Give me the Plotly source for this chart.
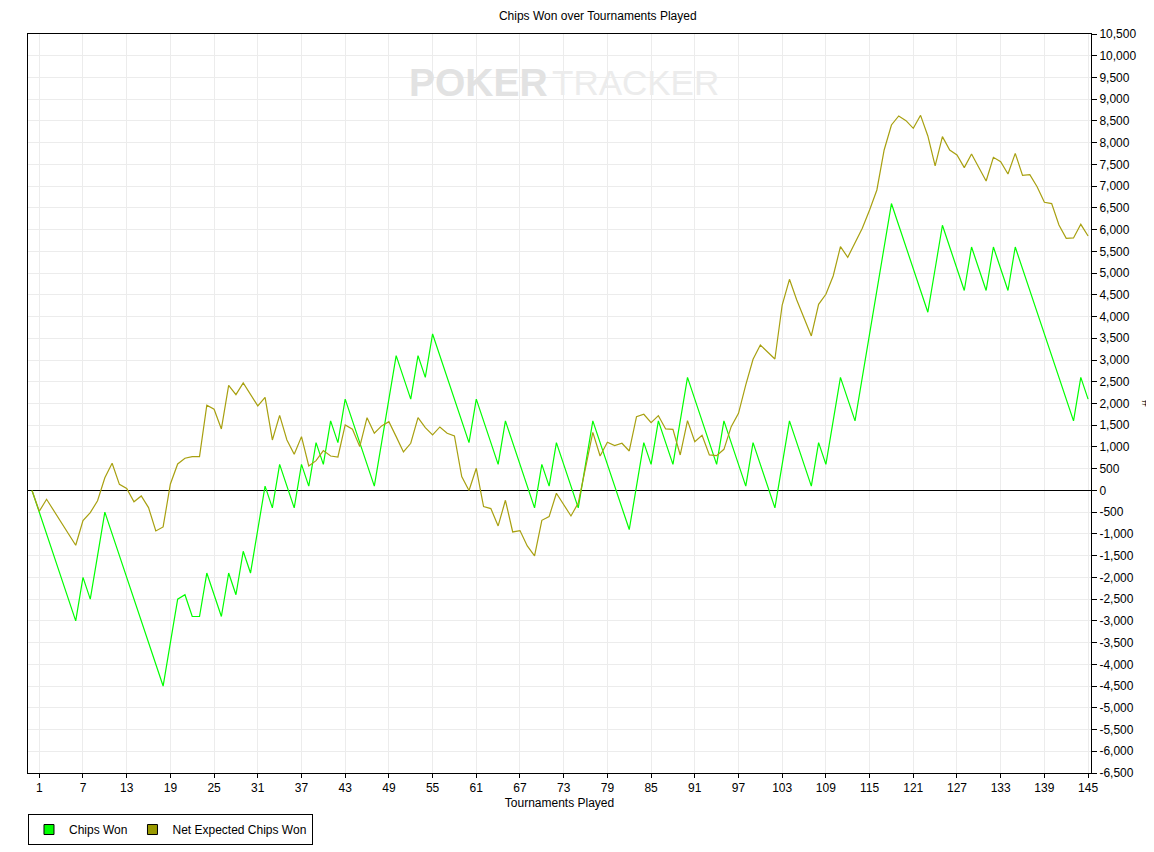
import plotly.graph_objects as go

# tournament index (0 = start)
tournaments = list(range(0, 146))

chips_won = [
    0, -500, -1000, -1500, -2000, -2500, -3000, -2000, -2500, -1500,
    -500, -1000, -1500, -2000, -2500, -3000, -3500, -4000, -4500, -3500,
    -2500, -2400, -2900, -2900, -1900, -2400, -2900, -1900, -2400, -1400,
    -1900, -900, 100, -400, 600, 100, -400, 600, 100, 1100,
    600, 1600, 1100, 2100, 1600, 1100, 600, 100, 1100, 2100,
    3100, 2600, 2100, 3100, 2600, 3600, 3100, 2600, 2100, 1600,
    1100, 2100, 1600, 1100, 600, 1600, 1100, 600, 100, -400,
    600, 100, 1100, 600, 100, -400, 600, 1600, 1100, 600,
    100, -400, -900, 100, 1100, 600, 1600, 1100, 600, 1600,
    2600, 2100, 1600, 1100, 600, 1600, 1100, 600, 100, 1100,
    600, 100, -400, 600, 1600, 1100, 600, 100, 1100, 600,
    1600, 2600, 2100, 1600, 2600, 3600, 4600, 5600, 6600, 6100,
    5600, 5100, 4600, 4100, 5100, 6100, 5600, 5100, 4600, 5600,
    5100, 4600, 5600, 5100, 4600, 5600, 5100, 4600, 4100, 3600,
    3100, 2600, 2100, 1600, 2600, 2100,
]

net_expected = [
    0, -480, -203, -470, -735, -1000, -1260, -694, -510, -238,
    290, 625, 140, 45, -260, -126, -395, -932, -840, 150,
    610, 740, 778, 778, 1959, 1867, 1414, 2419, 2204, 2472,
    2212, 1944, 2143, 1161, 1725, 1161, 832, 1238, 563, 686,
    916, 793, 770, 1506, 1407, 1008, 1675, 1315, 1484, 1583,
    1238, 885, 1085, 1675, 1445, 1277, 1460, 1315, 1254, 318,
    0, 510, -372, -418, -817, -226, -955, -924, -1277, -1507,
    -687, -602, -65, -318, -587, -290, 525, 1337, 793, 1108,
    1031, 1085, 908, 1698, 1752, 1560, 1721, 1414, 1407, 816,
    1606, 1123, 1269, 816, 801, 946, 1468, 1775, 2427, 3017,
    3346, 3193, 3024, 4266, 4857, 4381, 3960, 3553, 4282, 4512,
    4934, 5608, 5363, 5685, 6030, 6452, 6912, 7832, 8407, 8614,
    8507, 8330, 8629, 8154, 7464, 8139, 7832, 7717, 7426, 7740,
    7411, 7119, 7663, 7564, 7280, 7755, 7249, 7264, 6988, 6628,
    6598, 6107, 5800, 5808, 6122, 5854,
]

x_ticks = list(range(1, 146, 6))
y_ticks = list(range(-6500, 11000, 500))
y_labels = [f"{v:,}" for v in y_ticks]

green = "#00ff00"
olive = "#a8a010"
font = "Liberation Sans, Arial, sans-serif"

fig = go.Figure()
fig.add_trace(go.Scatter(x=tournaments, y=chips_won, mode="lines",
                         line=dict(color=green, width=1.2), showlegend=False,
                         name="Chips Won"))
fig.add_trace(go.Scatter(x=tournaments, y=net_expected, mode="lines",
                         line=dict(color=olive, width=1.2), showlegend=False,
                         name="Net Expected Chips Won"))

# square swatches for the legend
fig.add_trace(go.Scatter(x=[None], y=[None], mode="markers", name="Chips Won",
                         marker=dict(symbol="square", size=10, color=green,
                                     line=dict(color="black", width=1))))
fig.add_trace(go.Scatter(x=[None], y=[None], mode="markers",
                         name="Net Expected Chips Won",
                         marker=dict(symbol="square", size=10, color="#999900",
                                     line=dict(color="black", width=1))))

# watermark
fig.add_annotation(text="<b>POKER</b>", xref="paper", yref="paper",
                   x=0.4906, y=0.935, xanchor="right", yanchor="middle",
                   showarrow=False,
                   font=dict(family="Liberation Sans, Arial", size=39,
                             color="#e2e2e2"))
fig.add_annotation(text="TRACKER", xref="paper", yref="paper",
                   x=0.4906, y=0.935, xanchor="left", yanchor="middle",
                   showarrow=False,
                   font=dict(family="Liberation Sans, Arial", size=35,
                             color="#ececec"))

# page body adds an 8px margin, so the figure is 8px smaller each way
fig.update_layout(
    width=1146, height=844,
    margin=dict(l=20, r=63, t=26, b=79),
    paper_bgcolor="white", plot_bgcolor="white",
    font=dict(family=font, size=12, color="black"),
    title=dict(text="Chips Won over Tournaments Played", x=0.536, xref="paper",
               xanchor="center", y=0.9953, yref="container", yanchor="top",
               font=dict(size=12, color="black")),
    legend=dict(orientation="h", x=0.01745, xref="container", y=0.045,
                yref="container", xanchor="left", yanchor="top",
                bordercolor="black", borderwidth=1, bgcolor="white",
                font=dict(size=12), itemwidth=30, itemclick=False),
)

fig.update_xaxes(range=[-0.55, 145.4], tickvals=x_ticks, ticks="outside",
                 ticklen=4, tickcolor="black", showline=True, linecolor="black",
                 linewidth=1, mirror=True, showgrid=True, gridcolor="#ececec",
                 zeroline=False, automargin=False,
                 title=dict(text="Tournaments Played", standoff=4,
                            font=dict(size=12)))
fig.update_yaxes(range=[-6500, 10500], tickvals=y_ticks, ticktext=y_labels,
                 side="right", ticks="outside", ticklen=5, tickcolor="black",
                 showline=True, linecolor="black", linewidth=1, mirror=True,
                 showgrid=True, gridcolor="#ececec", zeroline=True,
                 zerolinecolor="black", zerolinewidth=1, automargin=False,
                 title=dict(text="#", standoff=20, font=dict(size=12)))

fig.write_html("out.html")
